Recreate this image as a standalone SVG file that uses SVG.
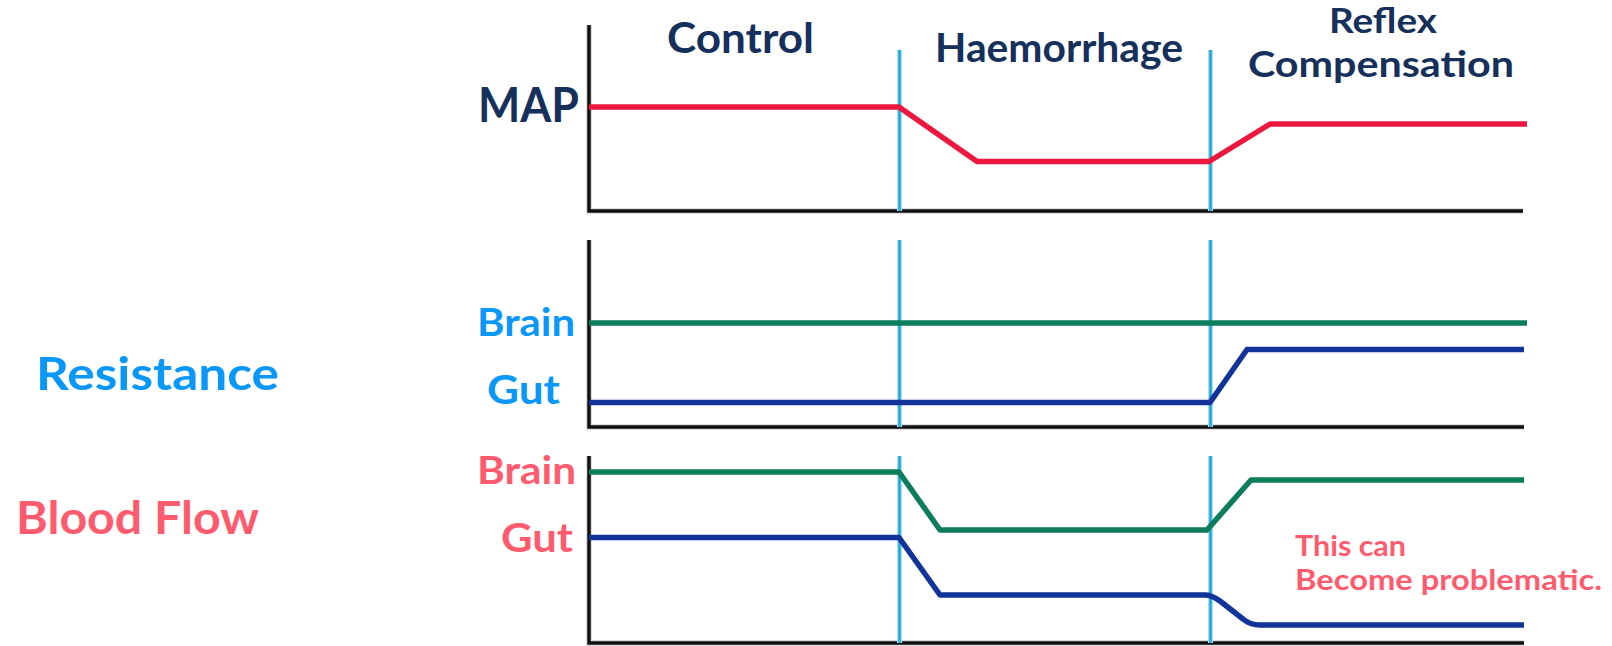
<svg xmlns="http://www.w3.org/2000/svg" width="1612" height="646" viewBox="0 0 1612 646">
  <style>
    text { font-family: "Lato", "Open Sans", "Liberation Sans", sans-serif; font-weight: 700; }
    .title { fill: #15305A; }
    .res { fill: #0A97FA; }
    .flow { fill: #FF5B6E; }
    .axis { fill: none; stroke: #111111; stroke-width: 3.5; stroke-linejoin: miter; }
    .axis-shadow { fill: none; stroke: #9A9A9A; stroke-width: 6; opacity: 0.35; }
    .divider-halo { stroke: #A9DDF0; stroke-width: 5; }
    .divider { stroke: #1FA8D6; stroke-width: 2.5; }
    .curve { fill: none; stroke-width: 5.5; stroke-linejoin: round; stroke-linecap: butt; }
    .map { stroke: #EE1740; }
    .brain { stroke: #0B7D5C; }
    .gut { stroke: #12339A; }
  </style>

  <rect width="1612" height="646" fill="#FFFFFF"/>

  <!-- phase titles -->
  <g id="phase-titles">
    <text class="title" x="667" y="53" font-size="42" textLength="147" lengthAdjust="spacingAndGlyphs">Control</text>
    <text class="title" x="935" y="62" font-size="40" textLength="248" lengthAdjust="spacingAndGlyphs">Haemorrhage</text>
    <text class="title" x="1329" y="33" font-size="35" textLength="108" lengthAdjust="spacingAndGlyphs">Reflex</text>
    <text class="title" x="1248" y="77" font-size="36" textLength="266" lengthAdjust="spacingAndGlyphs">Compensation</text>
  </g>

  <!-- panel axes -->
  <g id="axes">
    <path class="axis-shadow" d="M589 25 V211 H1523"/>
    <path class="axis-shadow" d="M589 240 V427 H1524"/>
    <path class="axis-shadow" d="M589 456 V643 H1524"/>
    <path class="axis" d="M589 25 V211 H1523"/>
    <path class="axis" d="M589 240 V427 H1524"/>
    <path class="axis" d="M589 456 V643 H1524"/>
  </g>

  <!-- phase dividers -->
  <g id="dividers">
    <path class="divider-halo" d="M899.5 50 V211 M899.5 240 V427 M899.5 456 V643 M1210.5 50 V211 M1210.5 240 V427 M1210.5 456 V643"/>
    <path class="divider" d="M899.5 50 V211 M899.5 240 V427 M899.5 456 V643 M1210.5 50 V211 M1210.5 240 V427 M1210.5 456 V643"/>
  </g>

  <!-- MAP panel -->
  <g id="map-panel">
    <text class="title" x="478" y="122" font-size="48" textLength="101" lengthAdjust="spacingAndGlyphs">MAP</text>
    <path class="curve map" d="M589 107 H899 L977 161.5 H1209 L1270 124 H1527"/>
  </g>

  <!-- resistance panel -->
  <g id="resistance-panel">
    <text class="res" x="36" y="390" font-size="46" textLength="243" lengthAdjust="spacingAndGlyphs">Resistance</text>
    <text class="res" x="477" y="336" font-size="39" textLength="98" lengthAdjust="spacingAndGlyphs">Brain</text>
    <text class="res" x="487" y="404" font-size="40" textLength="73" lengthAdjust="spacingAndGlyphs">Gut</text>
    <path class="curve brain" d="M589 323 H1527"/>
    <path class="curve gut" d="M589 402.5 H1210 L1247 349.5 H1524"/>
  </g>

  <!-- blood flow panel -->
  <g id="flow-panel">
    <text class="flow" x="16" y="534" font-size="45" textLength="243" lengthAdjust="spacingAndGlyphs">Blood Flow</text>
    <text class="flow" x="477" y="484" font-size="39" textLength="99" lengthAdjust="spacingAndGlyphs">Brain</text>
    <text class="flow" x="501" y="552" font-size="40" textLength="72" lengthAdjust="spacingAndGlyphs">Gut</text>
    <path class="curve brain" d="M589 472 H899 L940 530 H1207 L1251 480 H1524"/>
    <path class="curve gut" d="M589 537.5 H899 L940 595 H1206 Q1212 595.5 1220 601 L1243 619 Q1250 625 1260 625 H1524"/>
  </g>

  <!-- note -->
  <g id="note">
    <text class="flow" x="1295" y="556" font-size="28" textLength="111" lengthAdjust="spacingAndGlyphs">This can</text>
    <text class="flow" x="1295" y="590" font-size="28" textLength="307" lengthAdjust="spacingAndGlyphs">Become problematic.</text>
  </g>
</svg>
